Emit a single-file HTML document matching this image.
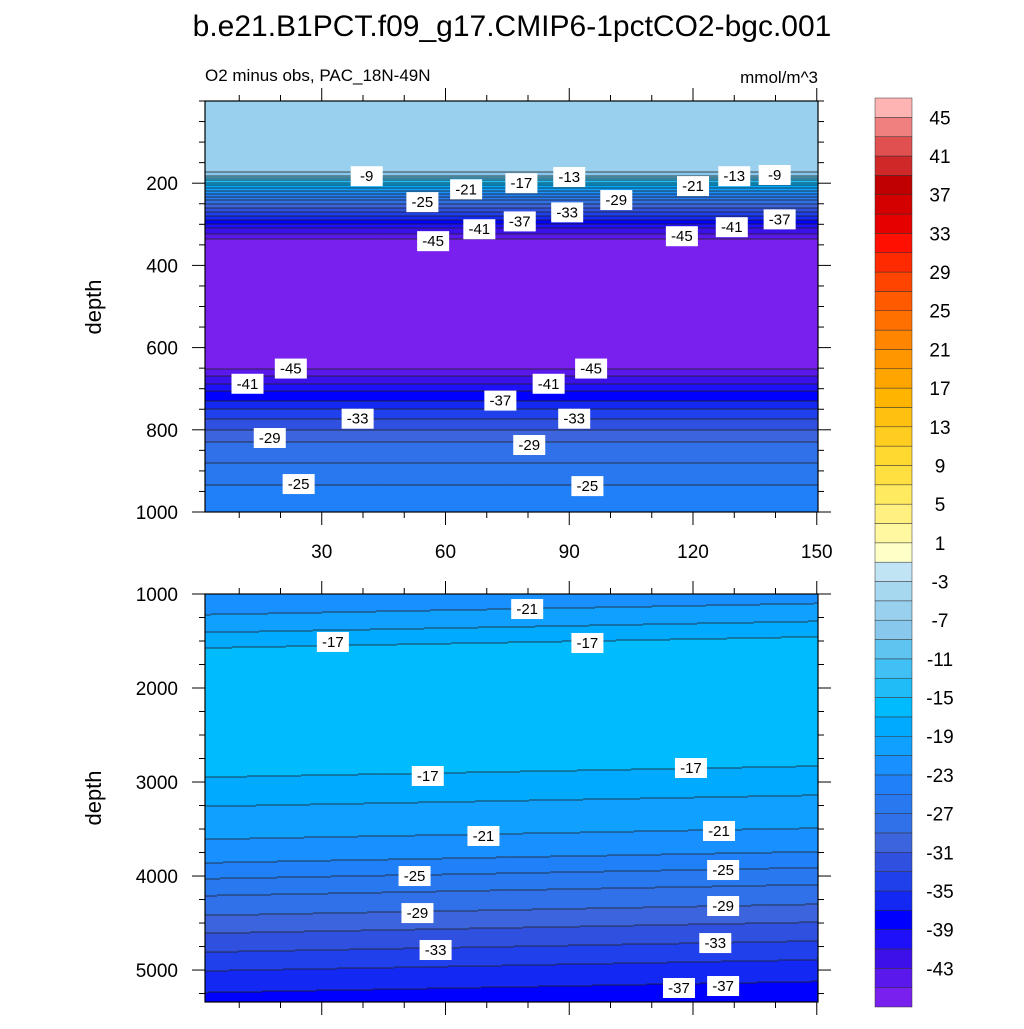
<!DOCTYPE html>
<html><head><meta charset="utf-8"><style>
body{margin:0;background:#fff}
svg text{font-family:"Liberation Sans",sans-serif}
</style></head><body>
<svg id="c" width="1024" height="1024" xmlns="http://www.w3.org/2000/svg">
<text x="512" y="36" font-size="30" text-anchor="middle">b.e21.B1PCT.f09_g17.CMIP6-1pctCO2-bgc.001</text>
<text x="205" y="81" font-size="17">O2 minus obs, PAC_18N-49N</text>
<text x="818" y="83" font-size="17" text-anchor="end">mmol/m^3</text>
<text transform="translate(101,307) rotate(-90)" font-size="22" text-anchor="middle">depth</text>
<text transform="translate(101,798) rotate(-90)" font-size="22" text-anchor="middle">depth</text>
<g id="g"></g>
</svg>
<script>
const levels = [-45,-43,-41,-39,-37,-35,-33,-31,-29,-27,-25,-23,-21,-19,-17,-15,-13,-11,-9,-7,-5,-3,-1,1,3,5,7,9,11,13,15,17,19,21,23,25,27,29,31,33,35,37,39,41,43,45];
const colors = ["#7a20ee","#5a18ec","#3c10e8","#1e10f8","#0000ff","#1428f4","#2040ec","#3050e0","#3c64dc","#3070e8","#2878f0","#2080f8","#1890ff","#10a0ff","#00aaff","#00bcff","#20bcf8","#40c0f4","#60c4f0","#88c8ec","#98d0ee","#a6d8f0","#c0e4f4","#ffffc8","#fff8a0","#fff080","#ffea60","#ffe040","#ffd830","#ffcc20","#ffc010","#ffb400","#ffa500","#ff9600","#ff8400","#ff7000","#ff5a00","#ff4400","#ff2a00","#ff1000","#e60000","#d40000","#c00000","#d02828","#e05050","#f08080","#ffb4b4"];
const cbLabels = [45,41,37,33,29,25,21,17,13,9,5,1,-3,-7,-11,-15,-19,-23,-27,-31,-35,-39,-43];
const topDepth = [0,170,180,190,205,218,240,270,290,310,335,350,620,651,688,705,729,750,773,800,830,880,935,1000];
const topValue = [-5.8,-6.5,-8,-12,-17,-21,-27,-33,-37,-41,-45,-47,-47,-45,-41,-39,-37,-35,-33,-31,-29,-27,-25,-24];
const botDepth = [1000,1160,1350,1515,1600,2700,2890,3200,3550,3800,3970,4150,4360,4550,4750,4950,5180,5400];
const botValue = [-22.5,-21,-19,-17,-16,-16,-17,-19,-21,-23,-25,-27,-29,-31,-33,-35,-37,-39];
const botTilt = 0.8;
const topLabX = [40.9,54.4,65,78.4,90,89.5,78,68.2,57,101.4,120,117.3,129.4,130,139.8,141,22.5,12,73.3,85,95.3,38.7,91.2,17.4,80.3,24.4,94.4];
const topLabD = [183,246,215,200,185,271,293,312,341,241,207,329,307,183,180,288,651,688,729,688,651,773,773,820,837,932,937];
const topLabT = ["-9","-25","-21","-17","-13","-33","-37","-41","-45","-29","-21","-45","-41","-13","-9","-37","-45","-41","-37","-41","-45","-33","-33","-29","-29","-25","-25"];
const botLabX = [79.8,32.7,94.4,55.7,119.5,69.2,126.3,52.5,127.3,53.2,127.3,57.6,125.4,116.6,127.3];
const botLabD = [1160,1510,1521,2936,2851,3574,3521,4000,3936,4394,4319,4787,4713,5191,5170];
const botLabT = ["-21","-17","-17","-17","-17","-21","-21","-25","-25","-29","-29","-33","-33","-37","-37"];
const xTicks = [30,60,90,120,150];
const topYTicks = [200,400,600,800,1000];
const botYTicks = [1000,2000,3000,4000,5000];

const NS="http://www.w3.org/2000/svg", G=document.getElementById('g');
function mk(t,a,p){const e=document.createElementNS(NS,t);for(const k in a)e.setAttribute(k,a[k]);(p||G).appendChild(e);return e;}
const X0=205,X1=818,xmin=1.7,xmax=150.3;
const xs=v=>X0+(v-xmin)/(xmax-xmin)*(X1-X0);
function interp(ds,vs,d){if(d<=ds[0])return vs[0];for(let i=1;i<ds.length;i++)if(d<=ds[i]){const t=(d-ds[i-1])/(ds[i]-ds[i-1]);return vs[i-1]+t*(vs[i]-vs[i-1]);}return vs[vs.length-1];}
function idx(v){let i=0;while(i<levels.length&&v>levels[i])i++;return i;}
function panel(name,Y0,Y1,dmin,dmax,ds,vs,tilt,yTicks,minorStep,labX,labD,labT,showX){
  const ys=d=>Y0+(d-dmin)/(dmax-dmin)*(Y1-Y0);
  const g=mk('g',{});
  
  
  const lg=mk('g',{stroke:'#222','stroke-width':0.8,fill:'none'});
  
  
  const cw=3;
  for(let px=X0;px<X1;px+=cw){
    const xv=xmin+(px+cw/2-X0)/(X1-X0)*(xmax-xmin);
    const w=Math.min(cw,X1-px);
    let start=Y0,prev=null;
    for(let py=Y0;py<=Y1;py++){
      const d=dmin+(py+0.5-Y0)/(Y1-Y0)*(dmax-dmin)+tilt*(xv-76);
      const k=py<Y1?idx(interp(ds,vs,d)):-1;
      if(prev===null){prev=k;continue;}
      if(k!==prev){
        mk('rect',{x:px,y:start,width:w+0.3,height:py-start,fill:colors[prev]},g);
        if(k>=0)mk('line',{x1:px,x2:px+w,y1:py,y2:py},lg);
        start=py;prev=k;
      }
    }
  }
  G.appendChild(lg);
  for(let i=0;i<labX.length;i++){
    const x=xs(labX[i]),y=ys(labD[i]);
    const r=mk('rect',{x:x-16,y:y-10,width:32,height:20,fill:'#fff'});
    
    
    const t=mk('text',{x:x,y:y+5,'font-size':15,'text-anchor':'middle'});
    t.textContent=labT[i];
    
    
  }
  const fr=mk('rect',{x:X0,y:Y0,width:X1-X0,height:Y1-Y0,fill:'none',stroke:'#000','stroke-width':1.2});
  
  
  const ax=mk('g',{stroke:'#000','stroke-width':1});
  
  
  for(let v=10;v<=150;v+=10){
    const x=xs(v),L=(v%30===0)?13:6;
    mk('line',{x1:x,x2:x,y1:Y1,y2:Y1+L},ax);mk('line',{x1:x,x2:x,y1:Y0,y2:Y0-L},ax);
  }
  for(let d=Math.ceil(dmin/minorStep)*minorStep;d<=dmax;d+=minorStep){
    const y=ys(d),L=yTicks.includes(d)?13:6;
    mk('line',{x1:X0,x2:X0-L,y1:y,y2:y},ax);mk('line',{x1:X1,x2:X1+L,y1:y,y2:y},ax);
  }
  yTicks.forEach(d=>{const t=mk('text',{x:X0-27,y:ys(d)+7,'font-size':19,'text-anchor':'end'});t.textContent=d;
    
    });
  if(showX)xTicks.forEach(v=>{const t=mk('text',{x:xs(v),y:Y1+46,'font-size':19,'text-anchor':'middle'});t.textContent=v;
    
    });
}
panel('top-panel',101,512,0,1000,topDepth,topValue,0,topYTicks,50,topLabX,topLabD,topLabT,true);
panel('bottom-panel',594,1002,1000,5340,botDepth,botValue,botTilt,botYTicks,250,botLabX,botLabD,botLabT,false);
// colorbar
const CB0=98,CB1=1007,bh=(CB1-CB0)/colors.length;
colors.forEach((c,i)=>{const r=mk('rect',{x:875,y:CB1-(i+1)*bh,width:37,height:bh,fill:c,stroke:'#333','stroke-width':0.5});
  
  });
cbLabels.forEach(v=>{const i=levels.indexOf(v);const y=CB1-(i+1)*bh;
  const t=mk('text',{x:940,y:y+7,'font-size':19,'text-anchor':'middle'});t.textContent=v;
  
  });
</script>
</body></html>
